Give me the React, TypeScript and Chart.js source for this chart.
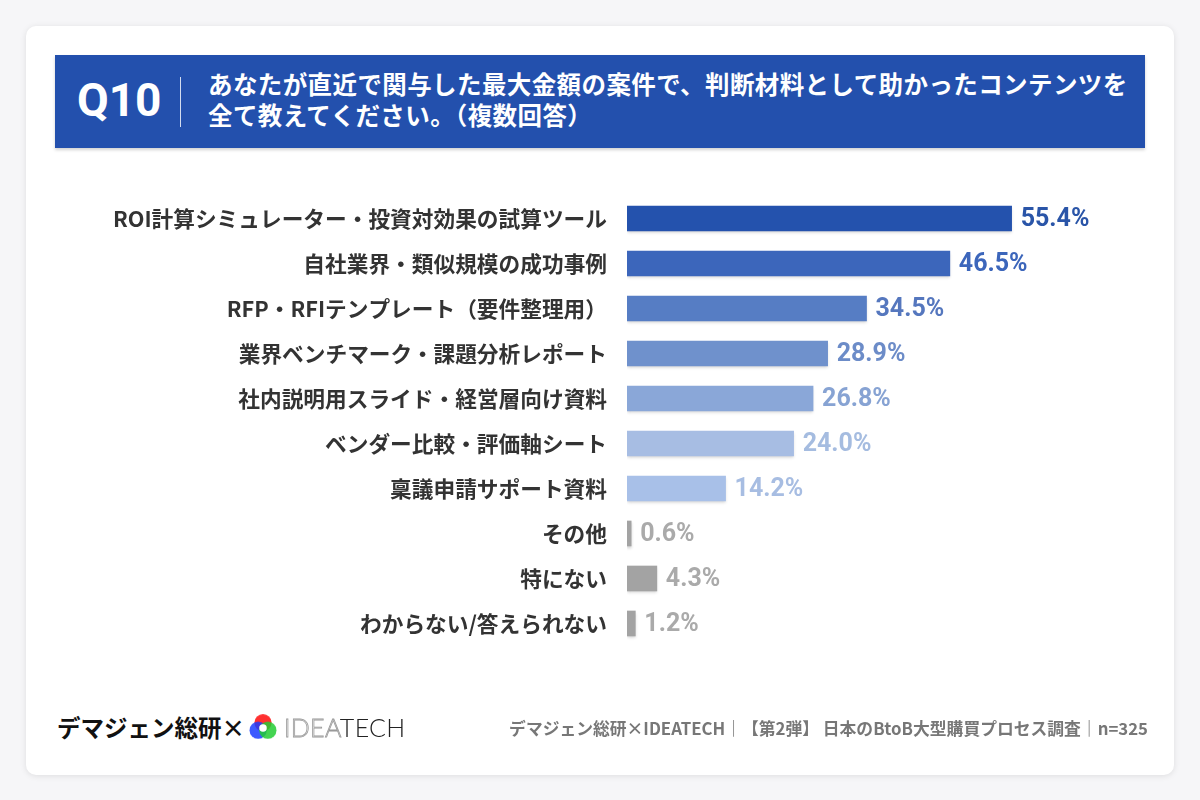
import React, { useEffect, useRef } from "react";
import { Chart, registerables } from "chart.js";

Chart.register(...registerables);

const categories = [
  "ROI計算シミュレーター・投資対効果の試算ツール",
  "自社業界・類似規模の成功事例",
  "RFP・RFIテンプレート（要件整理用）",
  "業界ベンチマーク・課題分析レポート",
  "社内説明用スライド・経営層向け資料",
  "ベンダー比較・評価軸シート",
  "稟議申請サポート資料",
  "その他",
  "特にない",
  "わからない/答えられない",
];
const values = [55.4, 46.5, 34.5, 28.9, 26.8, 24.0, 14.2, 0.6, 4.3, 1.2];
const barColors = [
  "#2452ad", "#3c66bb", "#567dc4", "#6f91cc", "#8aa7d8",
  "#a7bde3", "#a8c0e8", "#a3a3a3", "#a3a3a3", "#a3a3a3",
];
const labelColors = [
  "#2a55a8", "#3c66bb", "#5577be", "#6c8cc8", "#87a3d3",
  "#a5bce0", "#a7bde2", "#aaaaaa", "#aaaaaa", "#aaaaaa",
];

const FONT = "'Noto Sans CJK JP', 'Noto Sans', sans-serif";

const valueLabelPlugin = {
  id: "valueLabels",
  beforeDatasetsDraw(chart: any) {
    const ctx = chart.ctx;
    ctx.save();
    ctx.shadowColor = "rgba(0,0,0,0.18)";
    ctx.shadowOffsetY = 2;
    ctx.shadowBlur = 3;
  },
  afterDatasetsDraw(chart: any) {
    const ctx = chart.ctx;
    ctx.restore();
    const meta = chart.getDatasetMeta(0);
    ctx.save();
    ctx.font = `bold 25px Roboto, ${FONT}`;
    ctx.textBaseline = "middle";
    ctx.textAlign = "left";
    meta.data.forEach((bar: any, i: number) => {
      ctx.fillStyle = labelColors[i];
      ctx.fillText(values[i].toFixed(1) + "%", bar.x + 9, bar.y + 1);
    });
    ctx.restore();
  },
};

function BarChart() {
  const ref = useRef<HTMLCanvasElement>(null);
  useEffect(() => {
    if (!ref.current) return;
    const chart = new Chart(ref.current, {
      type: "bar",
      data: {
        labels: categories,
        datasets: [
          {
            data: values,
            backgroundColor: barColors,
            barThickness: 25,
            borderWidth: 0,
          },
        ],
      },
      options: {
        indexAxis: "y",
        animation: false,
        responsive: false,
        maintainAspectRatio: false,
        layout: { padding: { right: 32, top: 0, bottom: 0, left: 0 } },
        plugins: { legend: { display: false }, tooltip: { enabled: false } },
        scales: {
          x: { display: false, min: 0, max: 70 },
          y: {
            grid: { display: false },
            border: { display: false },
            afterFit: (s: any) => {
              s.width = 572;
            },
            ticks: {
              padding: 12,
              color: "#333333",
              font: { family: FONT, size: 21.7, weight: "bold" },
            },
          },
        },
      },
      plugins: [valueLabelPlugin],
    });
    return () => chart.destroy();
  }, []);
  return (
    <canvas
      ref={ref}
      width={1090}
      height={500}
      style={{ position: "absolute", left: 55, top: 171, width: 1090, height: 500 }}
    />
  );
}

function Logo() {
  return (
    <svg width="28" height="28" viewBox="0 0 26 26" style={{ display: "block" }}>
      <g style={{ mixBlendMode: "multiply" } as any}>
        <circle cx="13" cy="9" r="8" fill="#ff1a1a" opacity="0.9" />
        <circle cx="8.5" cy="16" r="8" fill="#1a3dff" opacity="0.85" />
        <circle cx="17.5" cy="16" r="8" fill="#22cc33" opacity="0.85" />
      </g>
      <circle cx="13" cy="14" r="3.5" fill="#ffffff" />
    </svg>
  );
}

export default function App() {
  return (
    <div
      style={{
        position: "fixed",
        left: 0,
        top: 0,
        width: 1200,
        height: 800,
        background: "#f6f6f8",
        fontFamily: FONT,
        overflow: "hidden",
      }}
    >
      <div
        style={{
          position: "absolute",
          left: 26,
          top: 26,
          width: 1148,
          height: 749,
          background: "#ffffff",
          borderRadius: 10,
          boxShadow: "0 1px 6px rgba(0,0,0,0.10)",
        }}
      />
      <div
        style={{
          position: "absolute",
          left: 55,
          top: 55,
          width: 1090,
          height: 93,
          background: "#2350ad",
          boxShadow: "0 2px 3px rgba(0,0,0,0.18)",
        }}
      >
        <div
          style={{
            position: "absolute",
            left: 22,
            top: 15,
            color: "#fff",
            fontFamily: `Roboto, ${FONT}`,
            fontWeight: 700,
            fontSize: 46,
            lineHeight: "60px",
          }}
        >
          Q10
        </div>
        <div
          style={{
            position: "absolute",
            left: 125,
            top: 22,
            width: 1,
            height: 50,
            background: "rgba(255,255,255,0.8)",
          }}
        />
        <div
          style={{
            position: "absolute",
            left: 153,
            top: 13,
            color: "#fff",
            fontWeight: 700,
            fontSize: 24.5,
            lineHeight: "31px",
            letterSpacing: "0.4px",
            whiteSpace: "nowrap",
          }}
        >
          あなたが直近で関与した最大金額の案件で、判断材料として助かったコンテンツを
          <br />
          全て教えてください。（複数回答）
        </div>
      </div>
      <BarChart />
      <div
        style={{
          position: "absolute",
          left: 57,
          top: 710,
          display: "flex",
          alignItems: "center",
          height: 34,
        }}
      >
        <span style={{ fontWeight: 700, fontSize: 23.5, color: "#111" }}>デマジェン総研×</span>
        <span style={{ marginLeft: 4 }}>
          <Logo />
        </span>
        <span
          style={{
            marginLeft: 7,
            fontFamily: "Lato, 'Open Sans', sans-serif",
            fontWeight: 300,
            fontSize: 25,
            letterSpacing: "0.3px",
          }}
        >
          <span style={{ color: "#fff", WebkitTextStroke: "0.8px #999" } as any}>IDEA</span>
          <span style={{ color: "#222" }}>TECH</span>
        </span>
      </div>
      <div
        style={{
          position: "absolute",
          right: 52,
          top: 717,
          color: "#777",
          fontWeight: 700,
          fontSize: 16.8,
          lineHeight: "22px",
          whiteSpace: "nowrap",
        }}
      >
        デマジェン総研×IDEATECH｜【第2弾】 日本のBtoB大型購買プロセス調査｜n=325
      </div>
    </div>
  );
}
